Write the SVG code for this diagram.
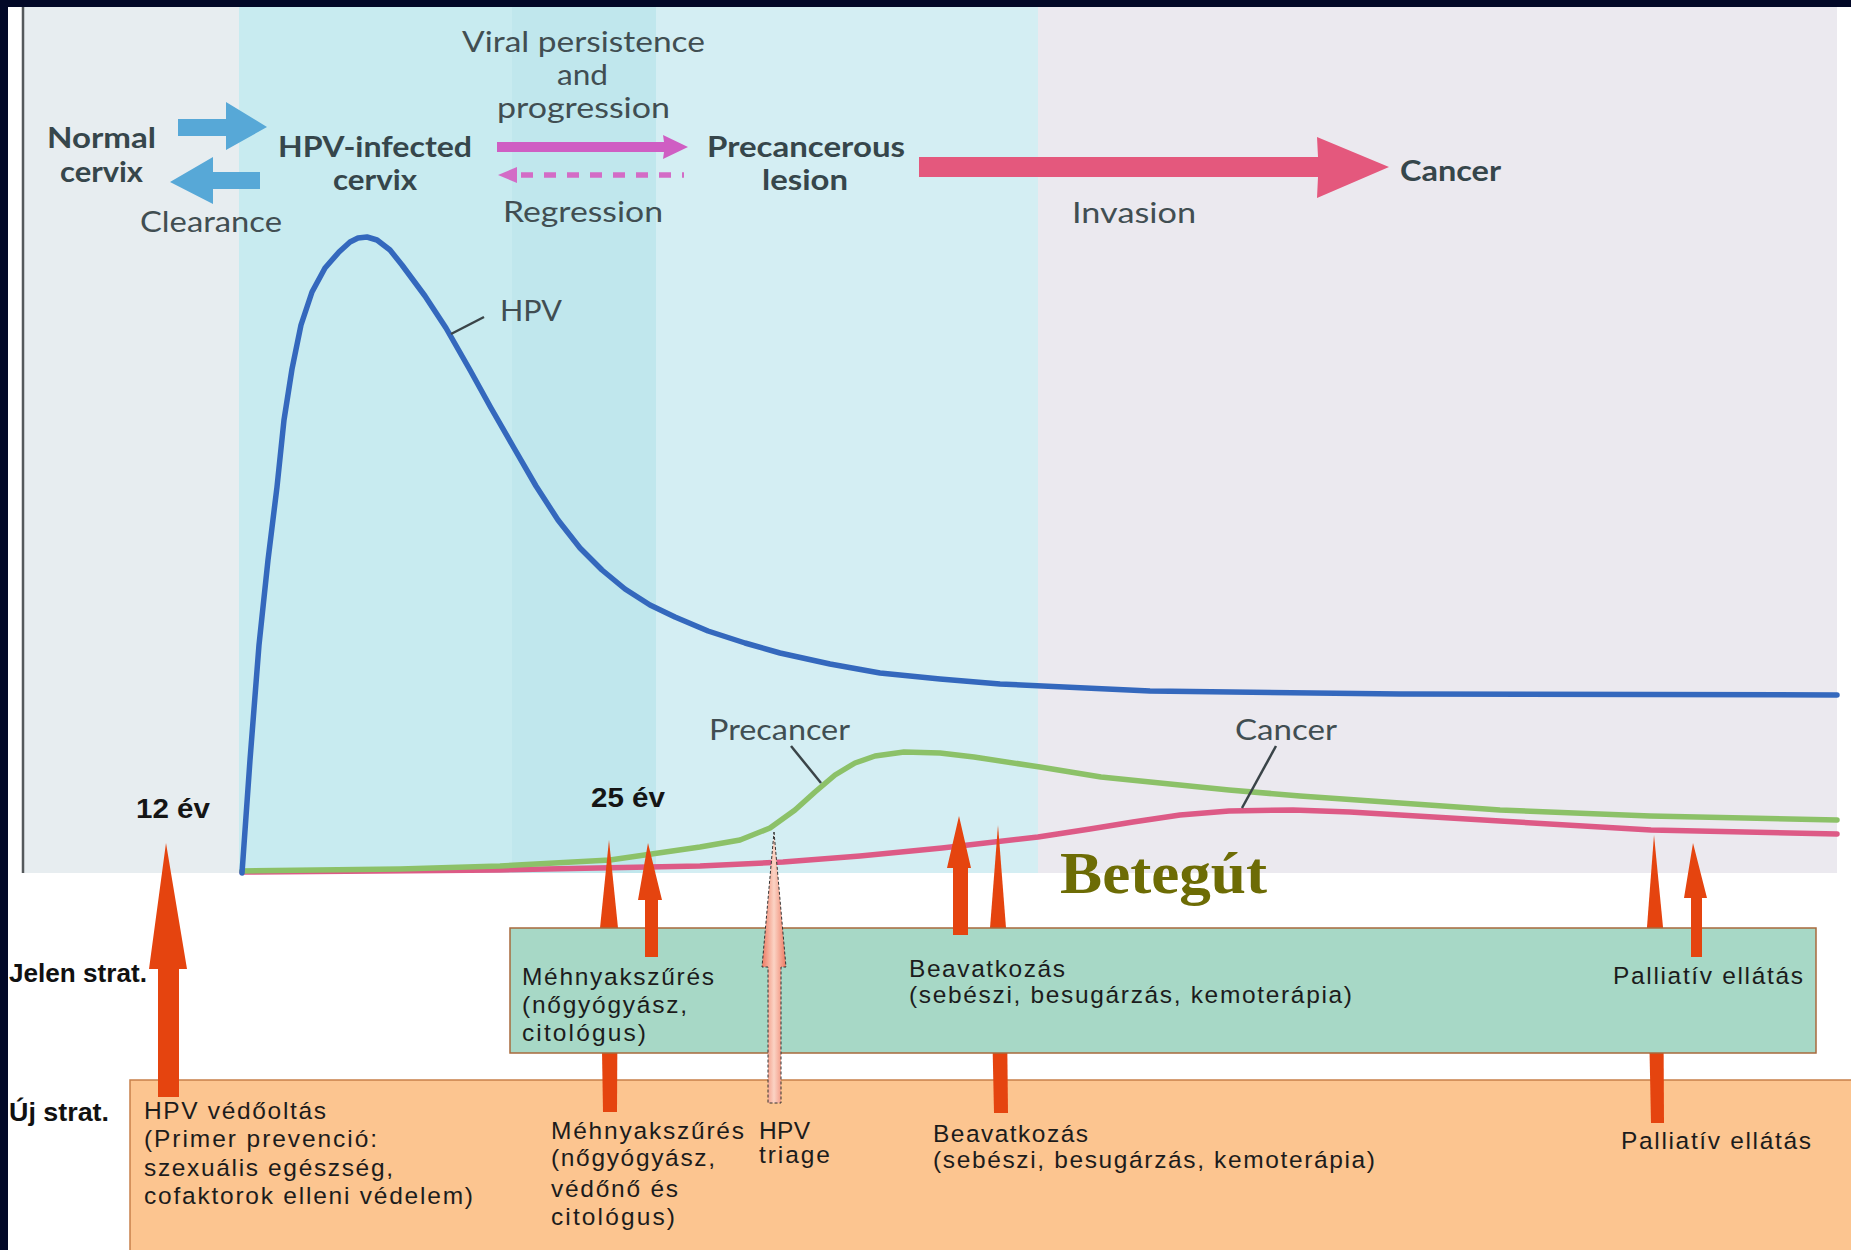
<svg xmlns="http://www.w3.org/2000/svg" width="1851" height="1250" viewBox="0 0 1851 1250">
<style>
  .leg { font-family: Lato, "Open Sans", "Liberation Sans", sans-serif; font-size: 29px; fill: #414e52; }
  .legb { font-weight: 700; fill: #36464b; }
  .yr { font-family: "Liberation Sans", Arial, sans-serif; font-weight: 700; font-size: 28px; fill: #151515; }
  .strat { font-family: "Liberation Sans", Arial, sans-serif; font-weight: 700; font-size: 26px; fill: #111; }
  .bx { font-family: "Liberation Sans", Arial, sans-serif; font-size: 24.5px; fill: #1c1c1c; }
  .curve { fill: none; stroke-width: 5.5; stroke-linejoin: round; stroke-linecap: round; }
  .lead { stroke: #3a4448; stroke-width: 2.5; fill: none; }
  .red { fill: #e5440f; }
</style>
<defs>
  <linearGradient id="triageGrad" x1="0" y1="0" x2="1" y2="0">
    <stop offset="0" stop-color="#ee7a62"/>
    <stop offset="0.5" stop-color="#fbd3c4"/>
    <stop offset="1" stop-color="#ee7a62"/>
  </linearGradient>
</defs>

<!-- page background -->
<rect x="0" y="0" width="1851" height="1250" fill="#020827"/>
<rect x="8" y="7" width="1843" height="1243" fill="#ffffff"/>

<!-- chart background -->
<g id="chart-bg">
  <rect x="22" y="7" width="217" height="866" fill="#e7edf0"/>
  <rect x="239" y="7" width="273" height="866" fill="#c8ebf0"/>
  <rect x="512" y="7" width="144" height="866" fill="#c0e7ed"/>
  <rect x="656" y="7" width="382" height="866" fill="#d4eef3"/>
  <rect x="1038" y="7" width="799" height="866" fill="#ebe9ef"/>
  <line x1="23" y1="7" x2="23" y2="873" stroke="#55595c" stroke-width="2.5"/>
</g>

<!-- curves -->
<g id="curves">
  <path id="cancer-curve" class="curve" stroke="#dd5a86" d="M242,872 L500,870 L700,866 L783,862 L860,856 L942,848 L1038,837 L1090,829 L1133,822 L1180,815 L1229,811 L1293,810 L1350,812 L1400,815 L1500,821 L1651,830 L1837,834"/>
  <path id="precancer-curve" class="curve" stroke="#8cc168" d="M242,871 L400,869 L500,866 L610,860 L700,847 L740,840 L770,828 L795,810 L815,792 L835,775 L855,763 L875,756 L904,752 L940,753 L974,757 L1040,767 L1101,777 L1229,790 L1300,796 L1400,803 L1500,810 L1650,816 L1837,820"/>
  <path id="hpv-curve" class="curve" stroke="#3468bd" d="M242,873 L250,760 L259,645 L268,560 L277,487 L284,420 L292,369 L301,325 L312,292 L325,268 L339,252 L350,242 L358,238 L367,237 L377,240 L390,250 L402,265 L425,296 L446,328 L470,370 L491,408 L514,448 L536,486 L558,520 L580,548 L602,570 L625,589 L650,605 L675,617 L708,631 L745,643 L780,653 L830,664 L880,673 L940,679 L1000,684 L1150,691 L1400,694 L1837,695"/>
</g>

<!-- chart labels -->
<g id="chart-labels">
  <line class="lead" x1="451" y1="334" x2="484" y2="317"/>
  <text class="leg" x="500" y="321" textLength="62" lengthAdjust="spacingAndGlyphs">HPV</text>
  <line class="lead" x1="791" y1="746" x2="821" y2="783"/>
  <text class="leg" x="709" y="740" textLength="141" lengthAdjust="spacingAndGlyphs">Precancer</text>
  <line class="lead" x1="1276" y1="746" x2="1242" y2="808"/>
  <text class="leg" x="1235" y="740" textLength="102" lengthAdjust="spacingAndGlyphs">Cancer</text>
  <text class="yr" x="136" y="818" textLength="74" lengthAdjust="spacingAndGlyphs">12 év</text>
  <text class="yr" x="591" y="807" textLength="74" lengthAdjust="spacingAndGlyphs">25 év</text>
</g>

<!-- top legend -->
<g id="legend">
  <g id="node-normal">
    <text class="leg legb" x="47" y="148" textLength="109" lengthAdjust="spacingAndGlyphs">Normal</text>
    <text class="leg legb" x="60" y="182" textLength="83" lengthAdjust="spacingAndGlyphs">cervix</text>
  </g>
  <g id="node-hpv-infected">
    <text class="leg legb" x="278" y="157" textLength="194" lengthAdjust="spacingAndGlyphs">HPV-infected</text>
    <text class="leg legb" x="333" y="190" textLength="84" lengthAdjust="spacingAndGlyphs">cervix</text>
  </g>
  <g id="node-precancerous">
    <text class="leg legb" x="707" y="157" textLength="198" lengthAdjust="spacingAndGlyphs">Precancerous</text>
    <text class="leg legb" x="762" y="190" textLength="86" lengthAdjust="spacingAndGlyphs">lesion</text>
  </g>
  <g id="node-cancer">
    <text class="leg legb" x="1400" y="181" textLength="101" lengthAdjust="spacingAndGlyphs">Cancer</text>
  </g>
  <g id="legend-connectors">
    <polygon fill="#57a8d7" points="178,119 226,119 226,102 267,127 226,150 226,136 178,136"/>
    <polygon fill="#57a8d7" points="260,172 213,172 213,157 170,182 213,204 213,189 260,189"/>
    <polygon fill="#cf5ec3" points="497,142 664,142 663,135 688,147 663,159 664,152 497,152"/>
    <polygon fill="#d36cc6" points="498,175 517,167 517,183"/>
    <line x1="521" y1="175" x2="684" y2="175" stroke="#d36cc6" stroke-width="5.5" stroke-dasharray="12 11"/>
    <polygon fill="#e4587d" points="919,157 1318,157 1317,137 1389,167 1317,198 1318,177 919,177"/>
  </g>
  <g id="legend-labels">
    <text class="leg" x="140" y="232" textLength="142" lengthAdjust="spacingAndGlyphs">Clearance</text>
    <text class="leg" x="462" y="52" textLength="243" lengthAdjust="spacingAndGlyphs">Viral persistence</text>
    <text class="leg" x="557" y="85" textLength="51" lengthAdjust="spacingAndGlyphs">and</text>
    <text class="leg" x="497" y="118" textLength="173" lengthAdjust="spacingAndGlyphs">progression</text>
    <text class="leg" x="503" y="222" textLength="160" lengthAdjust="spacingAndGlyphs">Regression</text>
    <text class="leg" x="1072" y="223" textLength="124" lengthAdjust="spacingAndGlyphs">Invasion</text>
  </g>
</g>

<text x="1060" y="893" font-family="'Liberation Serif', 'Times New Roman', serif" font-weight="700" font-size="60" fill="#6d6c05" textLength="207" lengthAdjust="spacingAndGlyphs">Betegút</text>

<!-- strategy boxes and arrows -->
<g id="uj-strat-box">
  <rect x="130" y="1080" width="1730" height="180" fill="#fcc590" stroke="#c8804a" stroke-width="1.5"/>
</g>

<g id="connectors-under">
  <polygon class="red" points="609,840 618,928 617,1112 603,1112 600,928"/>
  <polygon class="red" points="998,825 1006,928 1008,1113 994,1113 990,928"/>
  <polygon class="red" points="1654,835 1663,927 1664,1123 1651,1123 1647,927"/>
</g>

<g id="jelen-strat-box">
  <rect x="510" y="928" width="1306" height="125" fill="#a7d8c6" stroke="#a86a3c" stroke-width="1.5"/>
</g>

<g id="connectors-over">
  <polygon class="red" points="648,843 662,900 658,900 658,957 645,957 645,900 638,900"/>
  <polygon class="red" points="959,816 971,868 968,868 968,935 953,935 953,868 947,868"/>
  <polygon class="red" points="1693,843 1707,898 1702,898 1702,957 1691,957 1691,898 1684,898"/>
  <polygon class="red" points="166,843 187,969 179,969 179,1097 158,1097 158,969 149,969"/>
  <polygon fill="url(#triageGrad)" stroke="#333" stroke-width="1" stroke-dasharray="3 2" points="774,832 786,967 781,967 781,1103 768,1103 768,967 762,967"/>
</g>

<g id="strat-labels">
  <text class="strat" x="9" y="982" textLength="138" lengthAdjust="spacingAndGlyphs">Jelen strat.</text>
  <text class="strat" x="9" y="1121" textLength="100" lengthAdjust="spacingAndGlyphs">Új strat.</text>
</g>

<g id="jelen-items">
  <g id="jelen-szures">
    <text class="bx" x="522" y="985" textLength="192" lengthAdjust="spacing">Méhnyakszűrés</text>
    <text class="bx" x="522" y="1013" textLength="165" lengthAdjust="spacing">(nőgyógyász,</text>
    <text class="bx" x="522" y="1041" textLength="124" lengthAdjust="spacing">citológus)</text>
  </g>
  <g id="jelen-beavatkozas">
    <text class="bx" x="909" y="977" textLength="156" lengthAdjust="spacing">Beavatkozás</text>
    <text class="bx" x="909" y="1003" textLength="443" lengthAdjust="spacing">(sebészi, besugárzás, kemoterápia)</text>
  </g>
  <g id="jelen-palliativ">
    <text class="bx" x="1613" y="984" textLength="190" lengthAdjust="spacing">Palliatív ellátás</text>
  </g>
</g>

<g id="uj-items">
  <g id="uj-oltas">
    <text class="bx" x="144" y="1119" textLength="182" lengthAdjust="spacing">HPV védőoltás</text>
    <text class="bx" x="144" y="1147" textLength="233" lengthAdjust="spacing">(Primer prevenció:</text>
    <text class="bx" x="144" y="1176" textLength="249" lengthAdjust="spacing">szexuális egészség,</text>
    <text class="bx" x="144" y="1204" textLength="329" lengthAdjust="spacing">cofaktorok elleni védelem)</text>
  </g>
  <g id="uj-szures">
    <text class="bx" x="551" y="1139" textLength="193" lengthAdjust="spacing">Méhnyakszűrés</text>
    <text class="bx" x="551" y="1166" textLength="164" lengthAdjust="spacing">(nőgyógyász,</text>
    <text class="bx" x="551" y="1197" textLength="127" lengthAdjust="spacing">védőnő és</text>
    <text class="bx" x="551" y="1225" textLength="124" lengthAdjust="spacing">citológus)</text>
  </g>
  <g id="uj-triage">
    <text class="bx" x="759" y="1139" textLength="51" lengthAdjust="spacing">HPV</text>
    <text class="bx" x="759" y="1163" textLength="71" lengthAdjust="spacing">triage</text>
  </g>
  <g id="uj-beavatkozas">
    <text class="bx" x="933" y="1142" textLength="155" lengthAdjust="spacing">Beavatkozás</text>
    <text class="bx" x="933" y="1168" textLength="442" lengthAdjust="spacing">(sebészi, besugárzás, kemoterápia)</text>
  </g>
  <g id="uj-palliativ">
    <text class="bx" x="1621" y="1149" textLength="190" lengthAdjust="spacing">Palliatív ellátás</text>
  </g>
</g>
</svg>
